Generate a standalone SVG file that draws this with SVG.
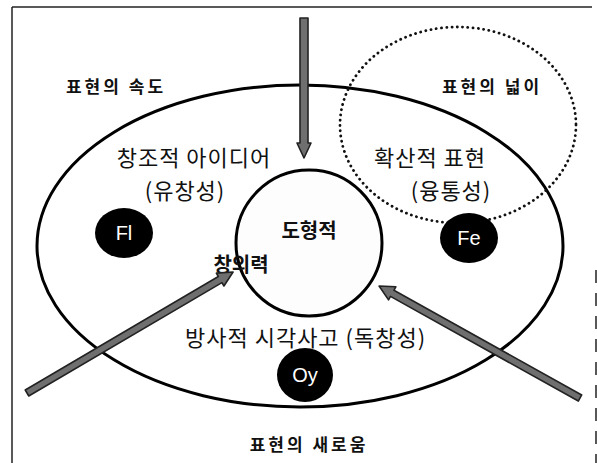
<svg xmlns="http://www.w3.org/2000/svg" width="597" height="463" viewBox="0 0 597 463">
<style>
.frame{stroke:#222;stroke-width:1.5;fill:none}
.big{fill:none;stroke:#000;stroke-width:3}
.inner{fill:#fdfdfd;stroke:#000;stroke-width:3}
.dotted{fill:none;stroke:#111;stroke-width:2.8;stroke-dasharray:0.1 5.2;stroke-linecap:round}
.blob{fill:#000}
.arrow{fill:#6f6f6f;stroke:#222;stroke-width:1.6;stroke-linejoin:round}
.kb{font-family:"Noto Sans CJK KR","Noto Sans",sans-serif;font-weight:700;font-size:17px;fill:#111;letter-spacing:3px}
.kn{font-family:"Noto Sans CJK KR","Noto Sans",sans-serif;font-weight:400;font-size:22px;fill:#111;letter-spacing:1px}
.kc{font-family:"Noto Sans CJK KR","Noto Sans",sans-serif;font-weight:700;font-size:20px;fill:#111}
.lat{font-family:"Liberation Sans",Arial,sans-serif;font-size:20px;fill:#fff}
</style>
<rect width="597" height="463" fill="#fff"/>
<g id="frame">
<line class="frame" x1="12" y1="7" x2="592" y2="7"/>
<line class="frame" x1="12" y1="7" x2="12" y2="463"/>
<line class="frame" x1="596" y1="270" x2="596" y2="463" stroke-dasharray="13 10"/>
</g>
<g id="speed"><text class="kb" x="116" y="93" text-anchor="middle">표현의 속도</text></g>
<g id="breadth"><text class="kb" x="492" y="93" text-anchor="middle">표현의 넓이</text></g>
<g id="novelty"><text class="kb" x="309" y="451" text-anchor="middle">표현의 새로움</text></g>
<g id="outer"><ellipse class="big" cx="300" cy="246" rx="263" ry="161"/></g>
<g id="breadth-zone"><ellipse class="dotted" cx="458" cy="125" rx="118" ry="98"/></g>
<g id="core">
<circle class="inner" cx="309" cy="243" r="73"/>
<text class="kc" x="309" y="238" text-anchor="middle">도형적</text>
</g>
<g id="creativity"><text class="kc" x="241" y="272" text-anchor="middle">창의력</text></g>
<g id="idea">
<text class="kn" x="194" y="166" text-anchor="middle">창조적 아이디어</text>
<text class="kn" x="185" y="199" text-anchor="middle">(유창성)</text>
<ellipse class="blob" cx="124" cy="233" rx="29" ry="25"/>
<text class="lat" x="124" y="240" text-anchor="middle">Fl</text>
</g>
<g id="diffuse">
<text class="kn" x="430" y="166" text-anchor="middle">확산적 표현</text>
<text class="kn" x="451" y="199" text-anchor="middle">(융통성)</text>
<ellipse class="blob" cx="469" cy="238" rx="29" ry="25"/>
<text class="lat" x="469" y="245" text-anchor="middle">Fe</text>
</g>
<g id="radial">
<text class="kn" x="185" y="346">방사적 시각사고 (독창성)</text>
<ellipse class="blob" cx="305" cy="375" rx="28" ry="27"/>
<text class="lat" x="305" y="382" text-anchor="middle">Oy</text>
</g>
<g id="connectors">
<polygon class="arrow" transform="translate(304,18) rotate(90)" points="0,-4 125,-4 125,-7 140,0 125,7 125,4 0,4"/>
<polygon class="arrow" transform="translate(27,393) rotate(-30.43)" points="0,-3.5 224,-3.5 224,-7.5 239,0 224,7.5 224,3.5 0,3.5"/>
<polygon class="arrow" transform="translate(580,398) rotate(-150.87)" points="0,-3.5 215,-3.5 215,-7.5 230,0 215,7.5 215,3.5 0,3.5"/>
</g>
</svg>
